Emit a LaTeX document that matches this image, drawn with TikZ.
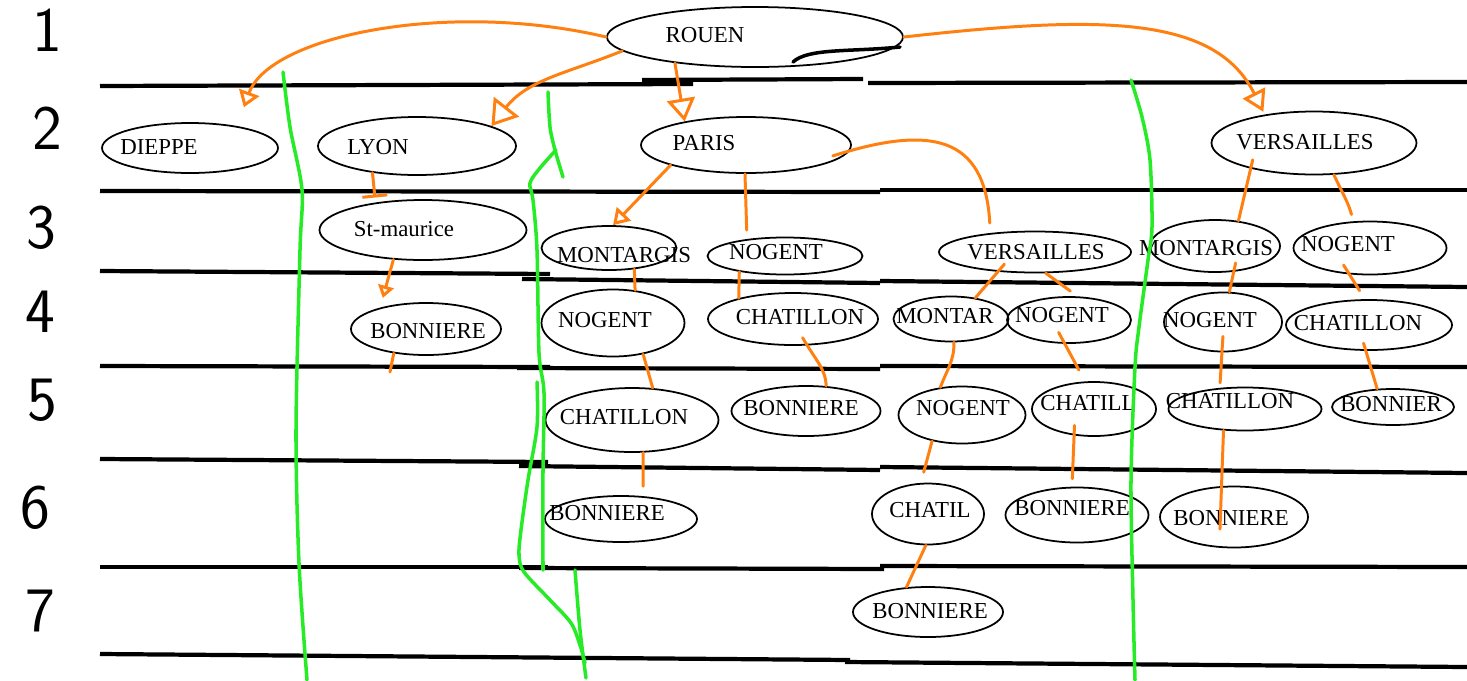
\documentclass[tikz,border=0pt]{standalone}
\usepackage{fontspec}
\setmainfont{Liberation Serif}
\usetikzlibrary{shapes.geometric, arrows.meta}

\definecolor{penorange}{RGB}{255,128,16}
\definecolor{pengreen}{RGB}{40,235,40}

\begin{document}
\begin{tikzpicture}[x=0.02cm, y=-0.02cm,
		rule/.style={line width=2.4pt, black},
		city/.style={draw, ellipse, line width=1pt, inner sep=0pt},
		word/.style={inner sep=0pt, font=\fontsize{13}{13}\selectfont},
		digit/.style={inner sep=0pt, font=\sffamily\fontsize{36}{36}\selectfont},
		link/.style={line width=1.7pt, penorange, line cap=round},
		fence/.style={line width=2pt, pengreen, line cap=round},
		tiphead/.style 2 args={-{Triangle[open, length=#1, width=#2]}}]
		\useasboundingbox (0,0) rectangle (1467,680);

		% staff lines
		\foreach \xa/\ya/\xb/\yb in {100/86/693/84, 642/80/863/79, 868/83/1467/82,
			100/191/880/192, 880/190/1467/190, 100/271/550/274, 522/279/880/283, 880/281/1467/287,
			100/366/550/367, 517/368/880/369, 880/366/1467/367, 100/459/548/462, 519/466/880/470,
			880/467/1467/473, 100/567/548/567, 519/568/884/569, 880/566/1467/567,
			100/654/850/660, 845/662/1467/667}
			\draw [rule] (\xa,\ya) -- (\xb,\yb);

		% row numbers
		\foreach \d/\x/\y in {1/47/30, 2/47/128, 3/41/228, 4/40/312, 5/42/400, 6/35/508, 7/40/611}
			\node [digit] (row\d) at (\x,\y) {\d};

		% towns
		\begin{scope}
			\clip (100,0) rectangle (1467,680);
			\node [city, minimum width=3.52cm, minimum height=1cm] (dieppe) at (190,148) {};
		\end{scope}
		\foreach \n/\x/\y/\w/\h in {rouen/755/37/296/60, lyon/417/146/198/58, paris/746/145/210/56,
			versR/1314/143/205/63, stm/423/230/207/60, montP/609/248/135/44, nogP/785/256/155/37,
			versM/1035/252/192/41, montR/1215/246/130/52, nogR/1370/248/153/53, bonL/426/329/150/52,
			nogA/613/323/143/67, chatB/793/319/170/52, montM/951/319/115/45, nogM/1069/320/124/46,
			nogR2/1223/322/118/59, chatR/1369/325/166/50, chatA/632/420/173/64, bonB/806/411/149/50,
			nogM2/962/415/127/57, chatM/1094/409/124/54, chatR2/1245/409/153/43, bonR/1393/407/122/36,
			bonA/621/519/152/46, chatM2/928/514/112/61, bonM/1077/515/143/55, bonR2/1234/517/148/61,
			bonM2/928/612/150/50}
			\node [city, minimum width=\w*0.02cm, minimum height=\h*0.02cm] (\n) at (\x,\y) {};

		\foreach \n/\x/\y/\t in {rouen/705/35/ROUEN, dieppe/159/147/DIEPPE, lyon/378/147/LYON,
			paris/704/143/PARIS, versR/1305/142/VERSAILLES, stm/404/229/St-maurice,
			montP/624/255/MONTARGIS, nogP/776/252/NOGENT, versM/1036/252/VERSAILLES,
			montR/1206/248/MONTARGIS, nogR/1348/244/NOGENT, bonL/428/331/BONNIERE,
			nogA/605/320/NOGENT, chatB/800/317/CHATILLON, montM/945/316/MONTAR,
			nogM/1062/315/NOGENT, nogR2/1210/320/NOGENT, chatR/1358/323/CHATILLON,
			chatA/624/417/CHATILLON, bonB/801/408/BONNIERE, nogM2/963/408/NOGENT,
			chatM/1088/403/CHATILL, chatR2/1230/401/CHATILLON, bonR/1391/404/BONNIER,
			bonA/607/513/BONNIERE, chatM2/930/510/CHATIL, bonM/1072/508/BONNIERE,
			bonR2/1231/518/BONNIERE, bonM2/930/611/BONNIERE}
			\node [word] (t\n) at (\x,\y) {\t};

		% scribble under ROUEN
		\draw [line width=2pt, line cap=round] (793,62) .. controls (808,48) and (850,52) .. (900,47);

		% orange links
		\draw [link, tiphead={9pt}{12pt}, shorten >=0.4cm] (rouen.west) .. controls (450,0) and (270,35) .. (dieppe.25);
		\draw [link, tiphead={14pt}{18pt}] (rouen.186) to[out=202, in=52] (lyon.15);
		\draw [link, tiphead={13pt}{16pt}] (rouen.198) -- (paris.159);
		\draw [link, tiphead={12pt}{14pt}, shorten >=0.06cm] (rouen.east) .. controls (1100,15) and (1215,15) .. (versR.150);
		\draw [link, shorten <=-0.36cm, shorten >=0.2cm] (paris.-3) .. controls (930,125) and (985,135) .. (versM.157);
		\draw [link, tiphead={9pt}{11pt}] (paris.195) -- (montP.80);
		\draw [link, shorten >=0.18cm] (paris.-92) -- (nogP.156);
		\draw [link, -{Bar[width=0.5cm]}, shorten >=0.1cm] (lyon.211) -- (stm.150);
		\draw [link, tiphead={7pt}{9pt}, shorten >=0.2cm] (stm.225) -- (bonL.155);
		\coordinate (bonLend) at (390,372);
		\draw [link] (bonL.217) -- (bonLend);

		\draw [link] (montP.-40) -- (nogA.56);
		\draw [link] (nogA.-46) -- (chatA.57);
		\draw [link, shorten >=0.2cm] (chatA.-71) -- (bonA.46);
		\draw [link] (nogP.199) -- (chatB.159);
		\draw [link, shorten <=-0.18cm] (chatB.-62) to[out=-60, in=92] (bonB.51);

		\draw [link, shorten <=-0.2cm] (versM.208) -- (montM.41);
		\draw [link, shorten >=0.18cm] (versM.-63) -- (nogM.70);
		\draw [link] (montM.-83) to[out=-88, in=70] (nogM2.128);
		\draw [link, shorten <=-0.26cm, shorten >=0.26cm] (nogM.-100) -- (chatM.108);
		\draw [link, shorten >=0.22cm] (nogM2.221) -- (chatM2.103);
		\draw [link] (chatM2.-94) -- (bonM2.131);
		\draw [link, shorten <=-0.2cm, shorten >=0.16cm] (chatM.233) -- (bonM.100);

		\draw [link, shorten <=-0.18cm] (versR.202) -- (montR.47);
		\draw [link, shorten >=0.14cm] (versR.-58) to[out=-65, in=105] (nogR.122);
		\draw [link, shorten <=-0.18cm] (montR.-54) -- (nogR2.78);
		\draw [link, shorten <=-0.22cm, shorten >=0.2cm] (nogR.232) -- (chatR.99);
		\draw [link, shorten <=-0.32cm, shorten >=0.1cm] (nogR2.-92) -- (chatR2.140);
		\draw [link, shorten <=-0.16cm] (chatR.-97) -- (bonR.131);
		\draw [link, shorten >=-0.86cm] (chatR2.225) -- (bonR2.112);

		% green dividers
		\draw [fence] plot [smooth] coordinates {(283,72) (290,127) (302,190) (300,250) (296,430) (299,563) (307,680)};
		\draw [fence] plot [smooth] coordinates {(548,92) (550,127) (555,150) (563,177)};
		\draw [fence] plot [smooth] coordinates {(556,150) (540,168) (530,183) (533,200) (537,250) (539,353) (544,393) (543,470) (543,570)};
		\draw [fence] plot [smooth] coordinates {(537,382) (537,427) (528,480) (521,530) (519,555) (524,572) (550,600) (571,623) (580,645) (585,663)};
		\draw [fence] plot [smooth] coordinates {(575,570) (580,630) (586,678)};
		\draw [fence] plot [smooth] coordinates {(1131,80) (1142,117) (1150,160) (1152,227) (1148,260) (1139,327) (1135,367) (1131,480) (1133,600) (1135,680)};
\end{tikzpicture}
\end{document}
